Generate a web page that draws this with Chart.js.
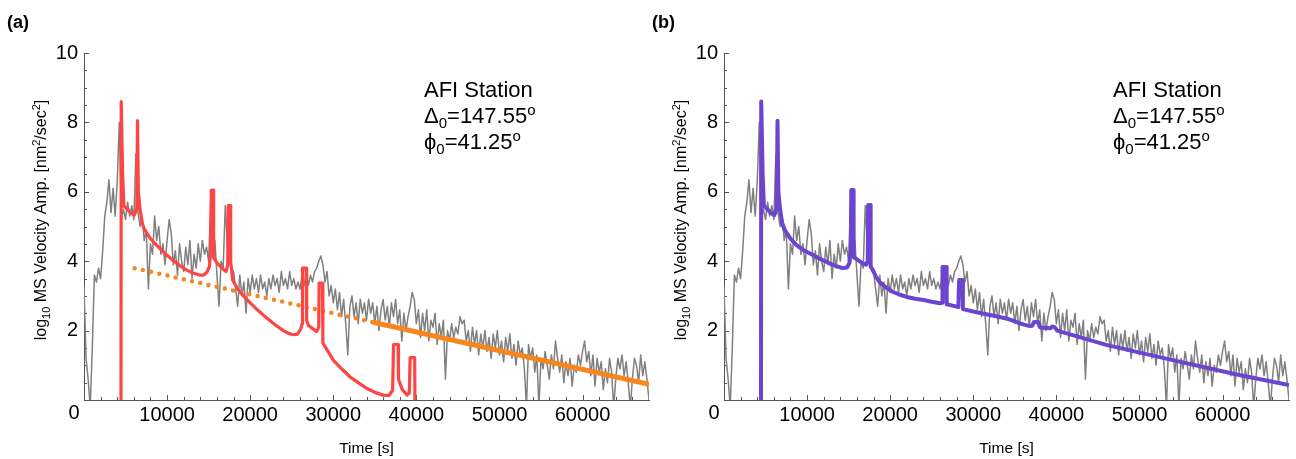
<!DOCTYPE html>
<html>
<head>
<meta charset="utf-8">
<script src="https://cdn.jsdelivr.net/npm/chart.js@4.4.1/dist/chart.umd.min.js"></script>
<style>
html, body { margin: 0; padding: 0; background: #fff; overflow: hidden; }
canvas { position: absolute; top: 0; }
#panelA { left: 0; }
#panelB { left: 640px; }
</style>
</head>
<body>
<canvas id="panelA" width="656" height="459"></canvas>
<canvas id="panelB" width="656" height="459"></canvas>
<script>
// axis ticks
const xTicks = [10000, 20000, 30000, 40000, 50000, 60000];
const xMinor = [2000, 4000, 6000, 8000, 12000, 14000, 16000, 18000, 22000, 24000, 26000, 28000,
  32000, 34000, 36000, 38000, 42000, 44000, 46000, 48000, 52000, 54000, 56000, 58000, 62000, 64000, 66000];
const yTicks = [2, 4, 6, 8, 10];
const yMinor = [0.5, 1, 1.5, 2.5, 3, 3.5, 4.5, 5, 5.5, 6.5, 7, 7.5, 8.5, 9, 9.5];

// observed data (gray), one value every 250 s
const grayStep = 250;
const grayAmp = [
  3.3, 1.2, 0.6, -0.2,   1.5, 3.6, 3.4, 3.8,   3.5, 4.3, 5.3, 5.7,   6.35, 5.4, 6.1, 5.3,
  6.3, 8.0, 5.2, 5.5,    5.2, 5.7, 5.3, 5.6,   5.2, 7.1, 5.4, 5.0,   5.3, 4.6, 4.9, 3.2,
  4.5, 4.2, 5.3, 4.6,    5.0, 4.2, 4.5, 3.9,   4.6, 5.2, 4.8, 3.9,   4.3, 3.6, 4.5, 4.0,
  3.7, 4.4, 3.9, 4.6,    3.5, 4.2, 3.8, 4.5,   4.0, 4.6, 4.2, 4.4,   4.0, 5.7, 4.3, 4.6,
  3.6, 2.7, 4.0, 3.8,    5.6, 4.5, 4.0, 3.8,   3.7, 3.2, 2.7, 3.6,   3.0, 3.4, 2.5, 3.5,
  3.1, 3.6, 3.2, 3.5,    3.1, 3.6, 3.2, 3.4,   3.0, 3.5, 3.2, 3.6,   3.3, 3.5, 3.1, 3.7,
  3.3, 3.5, 3.2, 3.7,    3.3, 3.5, 3.2, 3.4,   3.2, 3.6, 3.3, 3.7,   3.3, 3.6, 3.4, 3.7,
  3.8, 4.0, 4.15, 3.9,   3.4, 3.7, 3.0, 3.3,   2.8, 3.2, 2.6, 3.1,   2.4, 2.9, 2.2, 1.3,
  2.7, 3.0, 2.4, 2.8,    2.2, 2.9, 2.5, 2.8,   2.3, 2.9, 2.5, 2.8,   2.2, 2.7, 2.0, 2.6,
  2.9, 2.3, 2.7, 2.1,    2.8, 2.4, 2.9, 2.2,   2.6, 1.7, 2.5, 2.0,   2.4, 2.7, 3.1, 2.9,
  2.2, 2.6, 1.8, 2.5,    2.0, 2.6, 1.7, 2.3,   2.1, 2.5, 1.6, 2.2,   1.8, 2.3, 0.6, 2.0,
  1.7, 2.2, 1.8, 2.1,    1.9, 2.4, 2.2, 2.3,   1.7, 2.0, 1.4, 2.1,   1.6, 2.0, 1.3, 1.9,
  1.5, 2.0, 1.4, 1.8,    1.2, 1.9, 1.5, 2.0,   1.3, 1.7, 1.1, 1.8,   1.4, 1.9, 1.2, 1.6,
  1.0, 1.7, 1.3, 1.5,    0.9, -0.2, 1.6, 1.2,  1.5, 0.8, 1.3, -0.2,  1.2, 0.9, 1.4, 1.0,
  0.6, 1.3, 0.9, 1.7,    1.2, 0.8, 1.3, 0.5,   1.1, 0.7, 1.2, 0.4,   1.0, 0.8, 1.3, 1.0,
  1.4, 1.7, 1.1, 1.4,    0.7, 1.3, 0.4, 1.2,   0.8, 1.1, 0.3, 0.9,   0.5, 1.2, 0.8, -0.2,
  0.6, 1.2, 0.9, 1.3,    0.7, 1.1, 0.5, -0.2,  0.6, 1.2, 1.0, 0.5,   1.3, 0.7, 1.1, 0.6,
  0.0
];

// model (a), red
const redTime = [4450, 4480, 4650, 4800, 5200, 5600, 6050, 6350, 6440, 6540,
  6750, 7000, 7300, 8000, 8700, 9700, 10700, 11500, 12300, 13100,
  13900, 14400, 14800, 15100, 15250, 15320, 15550, 15600, 16000, 16600,
  17100, 17300, 17350, 17600, 17650, 17900, 18500, 19200, 20000, 21000,
  22000, 23000, 24000, 24600, 25200, 25700, 26100, 26250, 26300, 26750,
  26800, 27000, 28000, 28250, 28300, 28700, 28750, 29500, 30000, 31000,
  32000, 33000, 34000, 35000, 36000, 36700, 37150, 37250, 37800, 37850,
  38300, 38900, 39150, 39250, 39800, 39850];
const redAmp = [-1, 8.6, 6.5, 5.6, 5.5, 5.4, 5.33, 5.5, 8.05, 6.0,
  5.5, 5.1, 4.9, 4.65, 4.47, 4.23, 4.03, 3.88, 3.75, 3.66,
  3.6, 3.6, 3.68, 3.85, 4.3, 6.05, 6.05, 4.1, 3.95, 3.8,
  3.7, 3.9, 5.6, 5.6, 4.0, 3.45, 3.2, 3.0, 2.8, 2.57,
  2.36, 2.17, 2.0, 1.92, 1.88, 1.9, 2.05, 2.2, 3.8, 3.8,
  2.3, 2.15, 1.97, 2.1, 3.37, 3.37, 1.64, 1.35, 1.15, 0.9,
  0.67, 0.5, 0.34, 0.22, 0.14, 0.13, 0.28, 1.6, 1.6, 0.6,
  0.3, 0.14, 0.2, 1.22, 1.22, -1];

// fit line (a), orange: dotted part then solid part
const orangeDotTime = [6100, 34800];
const orangeDotAmp = [3.8, 2.24];
const orangeTime = [34800, 68000];
const orangeAmp = [2.24, 0.45];

// model (b), purple
const purpleTime = [4450, 4480, 4650, 4800, 5200, 5600, 6050, 6350, 6440, 6540,
  6750, 7000, 7300, 8000, 8700, 9700, 10700, 11700, 12700, 13500,
  14300, 14800, 15100, 15250, 15320, 15550, 15600, 16000, 16600, 17100,
  17300, 17350, 17600, 17650, 17900, 18300, 18700, 19500, 20300, 21100,
  22000, 23000, 24000, 25000, 26000, 26250, 26300, 26750, 26800, 27500,
  28200, 28300, 28700, 28750, 30000, 32000, 34000, 36000, 36800, 37100,
  37300, 37800, 38000, 38300, 39300, 39500, 39800, 40100, 46000, 54000,
  62000, 68000];
const purpleAmp = [-1, 8.6, 6.5, 5.6, 5.5, 5.4, 5.33, 5.5, 8.05, 6.0,
  5.5, 5.1, 4.9, 4.65, 4.47, 4.3, 4.18, 4.05, 3.94, 3.86,
  3.8, 3.82, 3.95, 4.3, 6.05, 6.05, 4.12, 4.05, 3.95, 3.9,
  4.0, 5.62, 5.62, 3.85, 3.75, 3.55, 3.41, 3.24, 3.12, 3.04,
  2.97, 2.92, 2.88, 2.83, 2.79, 2.8, 3.83, 3.83, 2.76, 2.72,
  2.68, 3.46, 3.46, 2.62, 2.55, 2.45, 2.35, 2.18, 2.13, 2.14,
  2.25, 2.25, 2.1, 2.08, 2.07, 2.12, 2.1, 2.0, 1.59, 1.15,
  0.72, 0.43];

const FONT = '"Liberation Sans", Arial, "DejaVu Sans", sans-serif';
const axisColor = '#555';

const pts = (t, v) => t.map((x, i) => ({ x: x, y: v[i] }));
const grayPts = grayAmp.map((v, i) => ({ x: i * grayStep, y: v }));

function richText(ctx, parts, x, y, size, small, measureOnly) {
  let cx = x;
  parts.forEach(([t, pos]) => {
    ctx.font = (pos ? small : size) + 'px ' + FONT;
    const dy = pos === 1 ? size * 0.23 : pos === -1 ? -size * 0.38 : 0;
    if (!measureOnly) ctx.fillText(t, cx, y + dy);
    cx += ctx.measureText(t).width;
  });
  return cx - x;
}

const ticksPlugin = {
  id: 'inTicks',
  beforeDatasetsDraw(chart) {
    const { ctx, chartArea: a, scales: { x, y } } = chart;
    ctx.save();
    ctx.strokeStyle = axisColor;
    ctx.lineWidth = 1;
    ctx.beginPath();
    const xt = (v, len) => { const p = Math.round(x.getPixelForValue(v)) + 0.5; ctx.moveTo(p, a.bottom); ctx.lineTo(p, a.bottom - len); };
    const yt = (v, len) => { const p = Math.round(y.getPixelForValue(v)) + 0.5; ctx.moveTo(a.left, p); ctx.lineTo(a.left + len, p); };
    xMinor.forEach(v => xt(v, 3));
    xTicks.forEach(v => xt(v, 5));
    yMinor.forEach(v => yt(v, 3));
    yTicks.forEach(v => yt(v, 5));
    ctx.stroke();
    ctx.restore();
  },
  afterDraw(chart, args, opts) {
    const { ctx, chartArea: a } = chart;
    ctx.save();
    ctx.fillStyle = '#000';
    ctx.textBaseline = 'alphabetic';
    ctx.textAlign = 'left';

    // panel letter
    ctx.font = 'bold 18px ' + FONT;
    ctx.fillText(opts.letter, opts.letterX, 28);

    // corner zero
    ctx.font = '20px ' + FONT;
    ctx.textAlign = 'center';
    ctx.textBaseline = 'middle';
    ctx.fillText('0', a.left - 10, a.bottom + 13);

    // x title
    ctx.font = '15.5px ' + FONT;
    ctx.textBaseline = 'alphabetic';
    ctx.fillText('Time [s]', (a.left + a.right) / 2, 453);

    // y title
    ctx.textAlign = 'left';
    const yParts = [['log', 0], ['10', 1], [' MS Velocity Amp. [nm', 0], ['2', -1], ['/sec', 0], ['2', -1], [']', 0]];
    const w = richText(ctx, yParts, 0, 0, 16, 11, true);
    ctx.translate(46, 220);
    ctx.rotate(-Math.PI / 2);
    richText(ctx, yParts, -w / 2, 0, 16, 11);
    ctx.setTransform(1, 0, 0, 1, 0, 0);

    // station note
    const nx = opts.noteX;
    richText(ctx, [['AFI Station', 0]], nx, 97, 22, 15);
    richText(ctx, [['\u0394', 0], ['0', 1], ['=147.55', 0], ['o', -1]], nx, 123, 22, 15);
    richText(ctx, [['\u03D5', 0], ['0', 1], ['=41.25', 0], ['o', -1]], nx, 149, 22, 15);
    ctx.restore();
  }
};

function makePanel(id, letter, letterX, noteX, modelSets) {
  new Chart(document.getElementById(id), {
    type: 'line',
    data: {
      datasets: modelSets.concat([{
        data: grayPts,
        borderColor: '#808080',
        borderWidth: 1.5
      }])
    },
    options: {
      responsive: false,
      animation: false,
      devicePixelRatio: 1,
      parsing: false,
      elements: { point: { radius: 0 }, line: { tension: 0, borderJoinStyle: 'round' } },
      layout: { padding: { top: 53, right: 7, left: 0, bottom: 0 } },
      plugins: {
        legend: { display: false },
        tooltip: { enabled: false },
        inTicks: { letter: letter, letterX: letterX, noteX: noteX }
      },
      scales: {
        x: {
          type: 'linear', min: 0, max: 68000,
          grid: { display: false, drawTicks: false },
          border: { color: axisColor, width: 1 },
          ticks: { color: '#000', font: { size: 20, family: FONT }, padding: 3, maxRotation: 0, autoSkip: false,
            callback: v => String(v) },
          afterBuildTicks: s => { s.ticks = xTicks.map(v => ({ value: v })); },
          afterFit: s => { s.height = 59; }
        },
        y: {
          type: 'linear', min: 0, max: 10,
          grid: { display: false, drawTicks: false },
          border: { color: axisColor, width: 1 },
          ticks: { color: '#000', font: { size: 20, family: FONT }, padding: 6, autoSkip: false,
            callback: v => String(v) },
          afterBuildTicks: s => { s.ticks = yTicks.map(v => ({ value: v })); },
          afterFit: s => { s.width = 84; }
        }
      }
    },
    plugins: [ticksPlugin]
  });
}

makePanel('panelA', '(a)', 7, 424, [
  { data: pts(redTime, redAmp), borderColor: '#ff4444', borderWidth: 3.2 },
  { data: pts(orangeTime, orangeAmp), borderColor: '#f7861f', borderWidth: 5 },
  { data: pts(orangeDotTime, orangeDotAmp), borderColor: '#f7861f', borderWidth: 4.5,
    borderDash: [0, 8.4], borderCapStyle: 'round' }
]);

makePanel('panelB', '(b)', 12, 473, [
  { data: pts(purpleTime, purpleAmp), borderColor: '#6b45cf', borderWidth: 4 }
]);
</script>
</body>
</html>
